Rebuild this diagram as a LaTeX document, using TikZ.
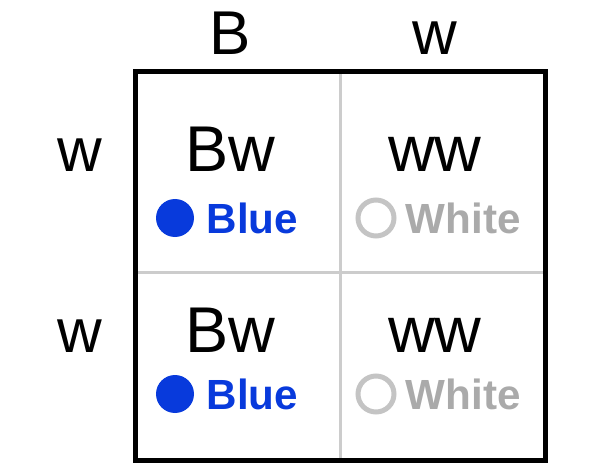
\documentclass[tikz,border=0pt]{standalone}
\usepackage{fontspec}
\setmainfont{Liberation Sans}
\definecolor{blueallele}{RGB}{8, 58, 220}
\definecolor{whitetext}{RGB}{170, 170, 170}
\definecolor{whitering}{RGB}{196, 196, 196}
\definecolor{gridline}{RGB}{204, 204, 204}
\usetikzlibrary{positioning}

\begin{document}
\begin{tikzpicture}[
        x=0.025cm, y=-0.025cm,
        allele/.style={inner sep=0pt, anchor=base, font=\fontsize{44}{50}\selectfont},
        geno/.style={inner sep=0pt, anchor=base, font=\fontsize{46}{52}\selectfont},
        dot/.style={circle, inner sep=0pt, minimum size=38*0.025cm},
        pheno/.style={inner sep=0pt, anchor=west, font=\bfseries\fontsize{30}{36}\selectfont},
    ]
        \useasboundingbox (0,0) rectangle (600,466);

        % Inner grid lines and frame
        \draw[gridline, line width=3*0.025cm] (340,72) -- (340,460);
        \draw[gridline, line width=3*0.025cm] (135,272) -- (545,272);
        \draw[line width=5*0.025cm] (135,72) rectangle (545,460);

        % Parent alleles
        \node[allele] (topB) at (230,55) {B};
        \node[allele] (topw) at (435,55) {w};
        \node[allele] (leftw1) at (80,172) {w};
        \node[allele] (leftw2) at (80,352) {w};

        % Offspring genotypes
        \node[geno] (g11) at (230,172) {Bw};
        \node[geno] (g12) at (435,172) {ww};
        \node[geno] (g21) at (230,352) {Bw};
        \node[geno] (g22) at (435,352) {ww};

        % Phenotypes
        \node[dot, fill=blueallele] (dot11) at (175,218) {};
        \node[pheno, text=blueallele, right=12*0.025cm of dot11] (p11) {Blue};
        \node[dot, draw=whitering, line width=5*0.025cm, minimum size=36*0.025cm] (dot12) at (376,218) {};
        \node[pheno, text=whitetext, right=9*0.025cm of dot12] (p12) {White};
        \node[dot, fill=blueallele] (dot21) at (175,394) {};
        \node[pheno, text=blueallele, right=12*0.025cm of dot21] (p21) {Blue};
        \node[dot, draw=whitering, line width=5*0.025cm, minimum size=36*0.025cm] (dot22) at (376,394) {};
        \node[pheno, text=whitetext, right=9*0.025cm of dot22] (p22) {White};
    \end{tikzpicture}
\end{document}
